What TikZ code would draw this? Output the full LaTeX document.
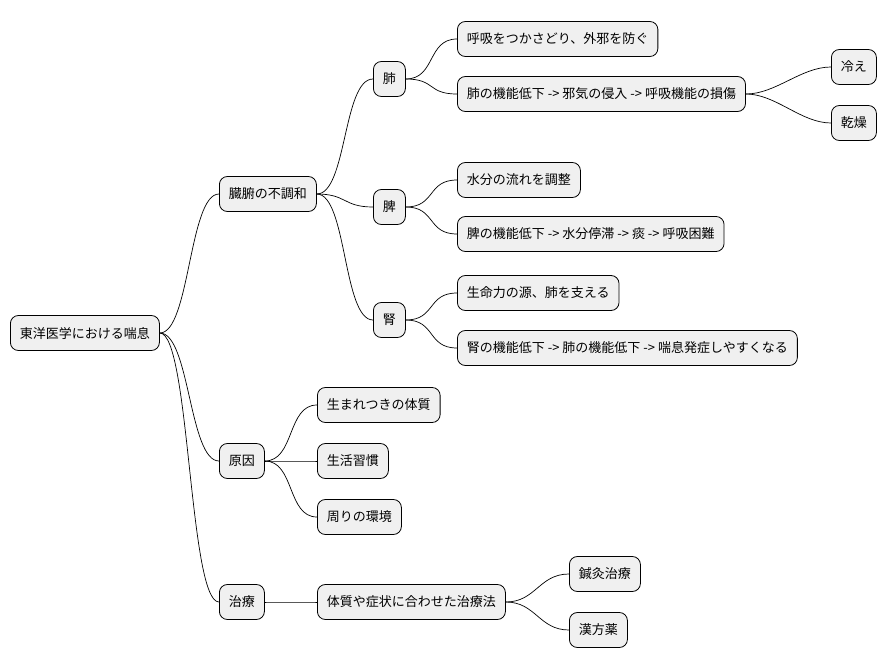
\documentclass[tikz,border=0pt]{standalone}
\usepackage{fontspec}
\setmainfont{Noto Sans CJK JP}
\begin{document}
\begin{tikzpicture}[x=1pt,y=-1pt,
  box/.style={draw=black,fill=black!6,rounded corners=8pt,line width=0.8pt,minimum height=35pt,inner xsep=9.5pt,anchor=west,font=\fontsize{13}{15}\selectfont},
  link/.style={draw=black,line width=0.7pt}]
\useasboundingbox (0,0) rectangle (890,668);
\node[box] (root) at (10,333) {東洋医学における喘息};
\node[box] (a) at (219,194) {臓腑の不調和};
\node[box] (a1) at (373,79) {肺};
\node[box] (a11) at (457,39) {呼吸をつかさどり、外邪を防ぐ};
\node[box] (a12) at (457,94) {肺の機能低下 -> 邪気の侵入 -> 呼吸機能の損傷};
\node[box] (a121) at (831,67) {冷え};
\node[box] (a122) at (831,123) {乾燥};
\node[box] (a2) at (373,207) {脾};
\node[box] (a21) at (457,180) {水分の流れを調整};
\node[box] (a22) at (457,234) {脾の機能低下 -> 水分停滞 -> 痰 -> 呼吸困難};
\node[box] (a3) at (373,320) {腎};
\node[box] (a31) at (457,293) {生命力の源、肺を支える};
\node[box] (a32) at (457,348) {腎の機能低下 -> 肺の機能低下 -> 喘息発症しやすくなる};
\node[box] (b) at (219,461) {原因};
\node[box] (b1) at (317,405) {生まれつきの体質};
\node[box] (b2) at (317,461) {生活習慣};
\node[box] (b3) at (317,517) {周りの環境};
\node[box] (c) at (219,602) {治療};
\node[box] (c1) at (317,602) {体質や症状に合わせた治療法};
\node[box] (c11) at (569,574) {鍼灸治療};
\node[box] (c12) at (569,630) {漢方薬};
\foreach \p/\c in {root/a,root/b,root/c,a/a1,a/a2,a/a3,a1/a11,a1/a12,a12/a121,a12/a122,a2/a21,a2/a22,a3/a31,a3/a32,b/b1,b/b2,b/b3,c/c1,c1/c11,c1/c12}
  \draw[link] (\p.east) .. controls ([xshift=30pt]\p.east) and ([xshift=-30pt]\c.west) .. (\c.west);
\end{tikzpicture}
\end{document}
